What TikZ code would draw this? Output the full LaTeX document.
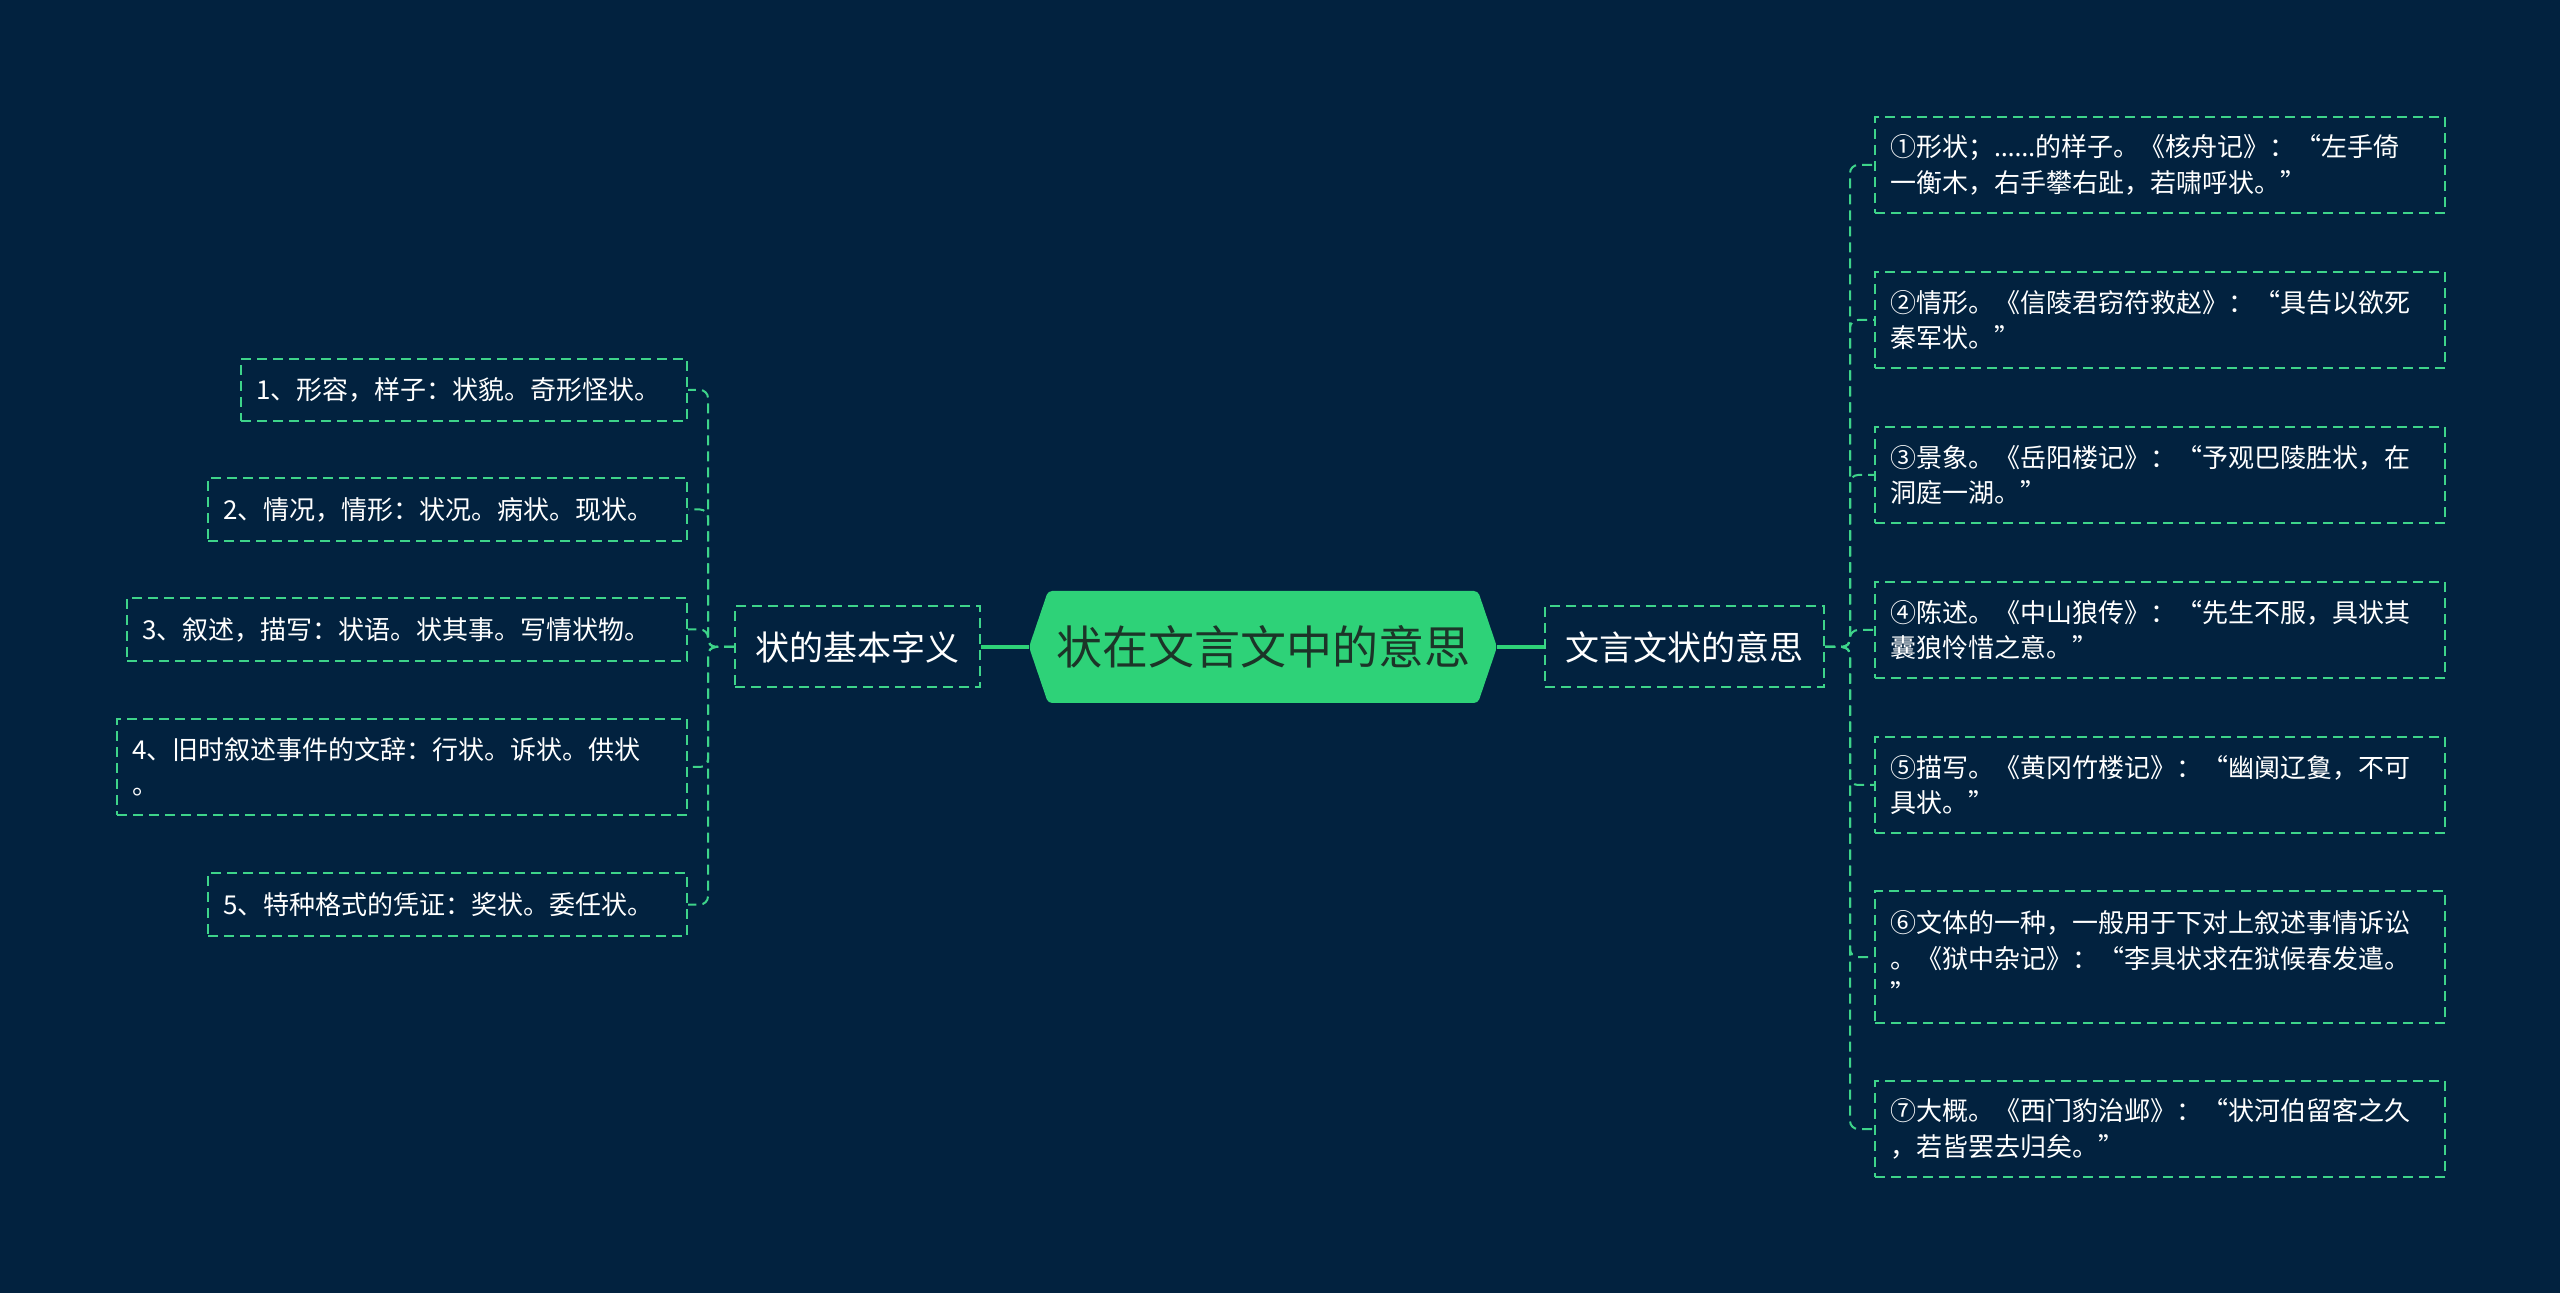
\documentclass[tikz,border=0pt]{standalone}
\usepackage{fontspec}
\setmainfont{Noto Sans CJK SC}
\newfontfamily\latinf{Noto Sans}
\usetikzlibrary{calc}
\definecolor{bgc}{RGB}{2,34,63}
\definecolor{hexg}{RGB}{46,210,120}
\definecolor{dashg}{RGB}{62,212,138}
\definecolor{rootink}{RGB}{28,52,40}
\begin{document}
\begin{tikzpicture}[x=0.5pt,y=-0.5pt,
  dline/.style={draw=dashg, line width=1pt, dash pattern=on 5pt off 3pt, rounded corners=4pt},
  leafbox/.style={draw=dashg, line width=1pt, dash pattern=on 5pt off 3pt, text=white,
    font=\fontsize{13}{17.75}\selectfont, align=left, inner xsep=7.5pt, inner ysep=0pt, anchor=north west},
  midbox/.style={draw=dashg, line width=1pt, dash pattern=on 5pt off 3pt, text=white,
    font=\fontsize{17}{20}\selectfont, minimum height=40.5pt, inner sep=0pt},
  solidline/.style={draw=hexg, line width=2pt}]
\path[use as bounding box, fill=bgc] (0,0) rectangle (2560,1293);

% root hexagon
\node[minimum width=234pt, minimum height=56pt, inner sep=0pt, text=rootink,
  font=\fontsize{23}{26}\selectfont,
  path picture={\fill[hexg, rounded corners=2pt]
     (path picture bounding box.west)
  -- ($(path picture bounding box.north west)+(19,0)$)
  -- ($(path picture bounding box.north east)+(-19,0)$)
  -- (path picture bounding box.east)
  -- ($(path picture bounding box.south east)+(-19,0)$)
  -- ($(path picture bounding box.south west)+(19,0)$) -- cycle;}]
  (root) at (1263,647) {状在文言文中的意思};

% main branches
\node[midbox, minimum width=122.5pt] (midL) at (857.5,647) {状的基本字义};
\node[midbox, minimum width=139.5pt] (midR) at (1684.5,647) {文言文状的意思};

% left leaves
\node[leafbox, text width=208pt, minimum height=31pt] (L1) at (240,358) {1、形容，样子：状貌。奇形怪状。};
\node[leafbox, text width=224.5pt, minimum height=31.5pt] (L2) at (207,477) {2、情况，情形：状况。病状。现状。};
\node[leafbox, text width=265pt, minimum height=31.5pt] (L3) at (126,597) {3、叙述，描写：状语。状其事。写情状物。};
\node[leafbox, text width=270pt, minimum height=48pt] (L4) at (116,718) {4、旧时叙述事件的文辞：行状。诉状。供状\\。};
\node[leafbox, text width=224.5pt, minimum height=31.5pt] (L5) at (207,872) {5、特种格式的凭证：奖状。委任状。};

% right leaves
\node[leafbox, text width=270pt, minimum height=48pt] (R1) at (1874,116) {①形状；{\latinf ……}的样子。《核舟记》：“左手倚\\一衡木，右手攀右趾，若啸呼状。”};
\node[leafbox, text width=270pt, minimum height=48pt] (R2) at (1874,271) {②情形。《信陵君窃符救赵》：“具告以欲死\\秦军状。”};
\node[leafbox, text width=270pt, minimum height=48pt] (R3) at (1874,426) {③景象。《岳阳楼记》：“予观巴陵胜状，在\\洞庭一湖。”};
\node[leafbox, text width=270pt, minimum height=48pt] (R4) at (1874,581) {④陈述。《中山狼传》：“先生不服，具状其\\囊狼怜惜之意。”};
\node[leafbox, text width=270pt, minimum height=48pt] (R5) at (1874,736) {⑤描写。《黄冈竹楼记》：“幽阒辽敻，不可\\具状。”};
\node[leafbox, text width=270pt, minimum height=66pt] (R6) at (1874,890) {⑥文体的一种，一般用于下对上叙述事情诉讼\\。《狱中杂记》：“李具状求在狱候春发遣。\\”};
\node[leafbox, text width=270pt, minimum height=48pt] (R7) at (1874,1080) {⑦大概。《西门豹治邺》：“状河伯留客之久\\，若皆罢去归矣。”};

% connectors
\draw[solidline] (midL.east) -- (root.west);
\draw[solidline] (root.east) -- (midR.west);
\foreach \n in {L1,L2,L3,L4,L5}
  \draw[dline] (midL.west) -- ++(-26,0) |- (\n.east);
\foreach \n in {R1,R2,R3,R4,R5,R6,R7}
  \draw[dline] (midR.east) -- ++(25,0) |- (\n.west);
\end{tikzpicture}
\end{document}
